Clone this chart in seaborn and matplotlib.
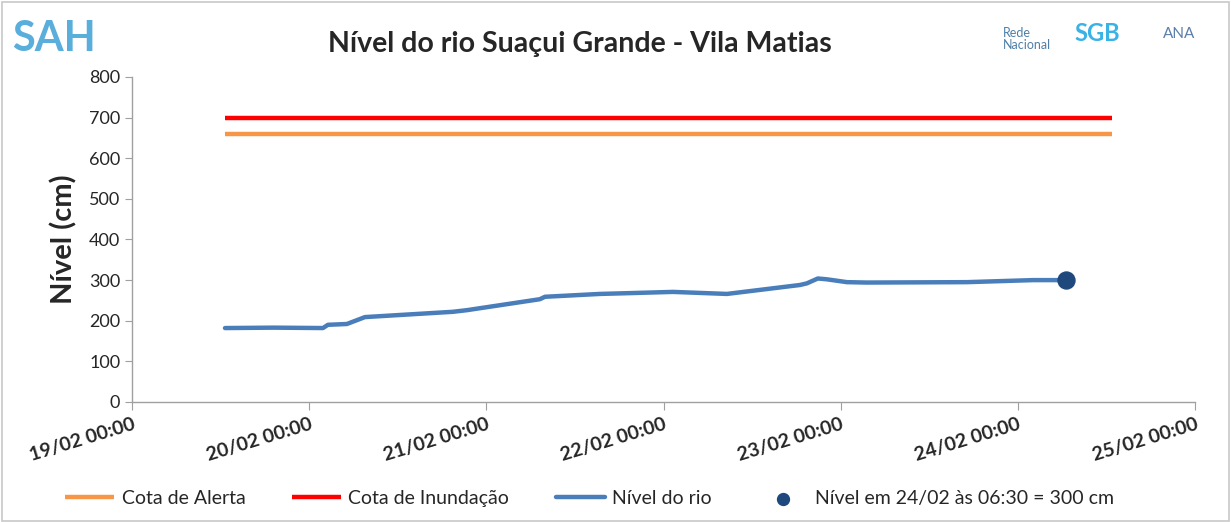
import matplotlib
matplotlib.use("Agg")
import matplotlib.pyplot as plt
import matplotlib.dates as mdates
from matplotlib.patches import Rectangle
import seaborn as sns
import pandas as pd
import numpy as np

# ---- data ----
t0 = pd.Timestamp("2025-02-19 00:00")
level_days = [0.525, 0.80, 1.078, 1.106, 1.213, 1.315, 1.811, 1.890, 2.302, 2.331,
              2.641, 2.810, 3.053, 3.358, 3.770, 3.809, 3.871, 3.922, 4.035, 4.148,
              4.712, 5.085, 5.271]
level_cm = [182, 183, 182, 190, 192, 209, 222, 226, 253, 259,
            266, 268, 271, 266, 288, 292, 304, 302, 295, 294,
            295, 300, 300]
threshold_days = [0.525, 5.53]
alerta_cm = 660
inundacao_cm = 700
last_day = 5.271
last_cm = 300

title = "Nível do rio Suaçui Grande - Vila Matias"
ylabel = "Nível (cm)"
legend_labels = ["Cota de Alerta", "Cota de Inundação", "Nível do rio",
                 "Nível em 24/02 às 06:30 = 300 cm"]
yticks = [0, 100, 200, 300, 400, 500, 600, 700, 800]

def to_ts(days):
    return [t0 + pd.Timedelta(days=d) for d in days]

df_level = pd.DataFrame({"t": to_ts(level_days), "v": level_cm})
df_alert = pd.DataFrame({"t": to_ts(threshold_days), "v": [alerta_cm] * 2})
df_inund = pd.DataFrame({"t": to_ts(threshold_days), "v": [inundacao_cm] * 2})
df_last = pd.DataFrame({"t": to_ts([last_day]), "v": [last_cm]})

sns.set_style("white")
plt.rcParams["font.family"] = ["Lato", "DejaVu Sans"]

fig = plt.figure(figsize=(12.31, 5.22), dpi=100)
ax = fig.add_axes([0.1072, 0.2299, 0.8636, 0.6226])

sns.lineplot(data=df_alert, x="t", y="v", ax=ax, color="#F79646", lw=3.2,
             label=legend_labels[0], solid_capstyle="butt")
sns.lineplot(data=df_inund, x="t", y="v", ax=ax, color="#FF0000", lw=3.2,
             label=legend_labels[1], solid_capstyle="butt")
sns.lineplot(data=df_level, x="t", y="v", ax=ax, color="#4A7EBB", lw=3.2,
             label=legend_labels[2])
sns.scatterplot(data=df_last, x="t", y="v", ax=ax, color="#1F497D", s=150,
                edgecolor="#1F497D", zorder=5, label=legend_labels[3])

ax.set_xlim(t0, t0 + pd.Timedelta(days=6))
ax.set_ylim(0, 800)
ax.set_yticks(yticks)
ax.xaxis.set_major_locator(mdates.DayLocator())
ax.xaxis.set_major_formatter(mdates.DateFormatter("%d/%m %H:%M"))
ax.tick_params(axis="y", labelsize=13, length=5, color="#A0A0A0", direction="out", left=True)
ax.tick_params(axis="x", labelsize=14, length=6, color="#A0A0A0", direction="out", bottom=True, pad=4)
for lab in ax.get_xticklabels():
    lab.set_rotation(17)
    lab.set_fontweight("bold")
    lab.set_ha("right")
    lab.set_rotation_mode("anchor")
ax.set_xlabel("")
ax.set_ylabel(ylabel, fontsize=21, fontweight="bold", labelpad=8)
for s in ["top", "right"]:
    ax.spines[s].set_visible(False)
for s in ["left", "bottom"]:
    ax.spines[s].set_color("#A0A0A0")
    ax.spines[s].set_linewidth(1.0)

ax.legend_.remove()
handles, labels = ax.get_legend_handles_labels()
fig.legend(handles, labels, loc="lower center", bbox_to_anchor=(0.479, -0.005), ncol=4,
           frameon=False, fontsize=14, handlelength=2.5, columnspacing=2.4, handletextpad=0.4,
           markerscale=0.7)

fig.text(0.471, 0.915, title, ha="center", va="center", fontsize=20.5, fontweight="bold")

# logos (approximated as text)
fig.text(0.010, 0.925, "SAH", ha="left", va="center", fontsize=30, fontweight="bold",
         color="#5AAEDC")
fig.text(0.815, 0.925, "Rede\nNacional", ha="left", va="center", fontsize=9,
         color="#4F7FA6", linespacing=1.0)
fig.text(0.873, 0.935, "SGB", ha="left", va="center", fontsize=17, fontweight="bold",
         color="#39B3E6")
fig.text(0.945, 0.935, "ANA", ha="left", va="center", fontsize=11, color="#5B7FA8")

fig.patches.append(Rectangle((0.002, 0.002), 0.996, 0.994, transform=fig.transFigure,
                             fill=False, edgecolor="#C8C8C8", lw=1.2))

fig.savefig("out.png", dpi=100)
